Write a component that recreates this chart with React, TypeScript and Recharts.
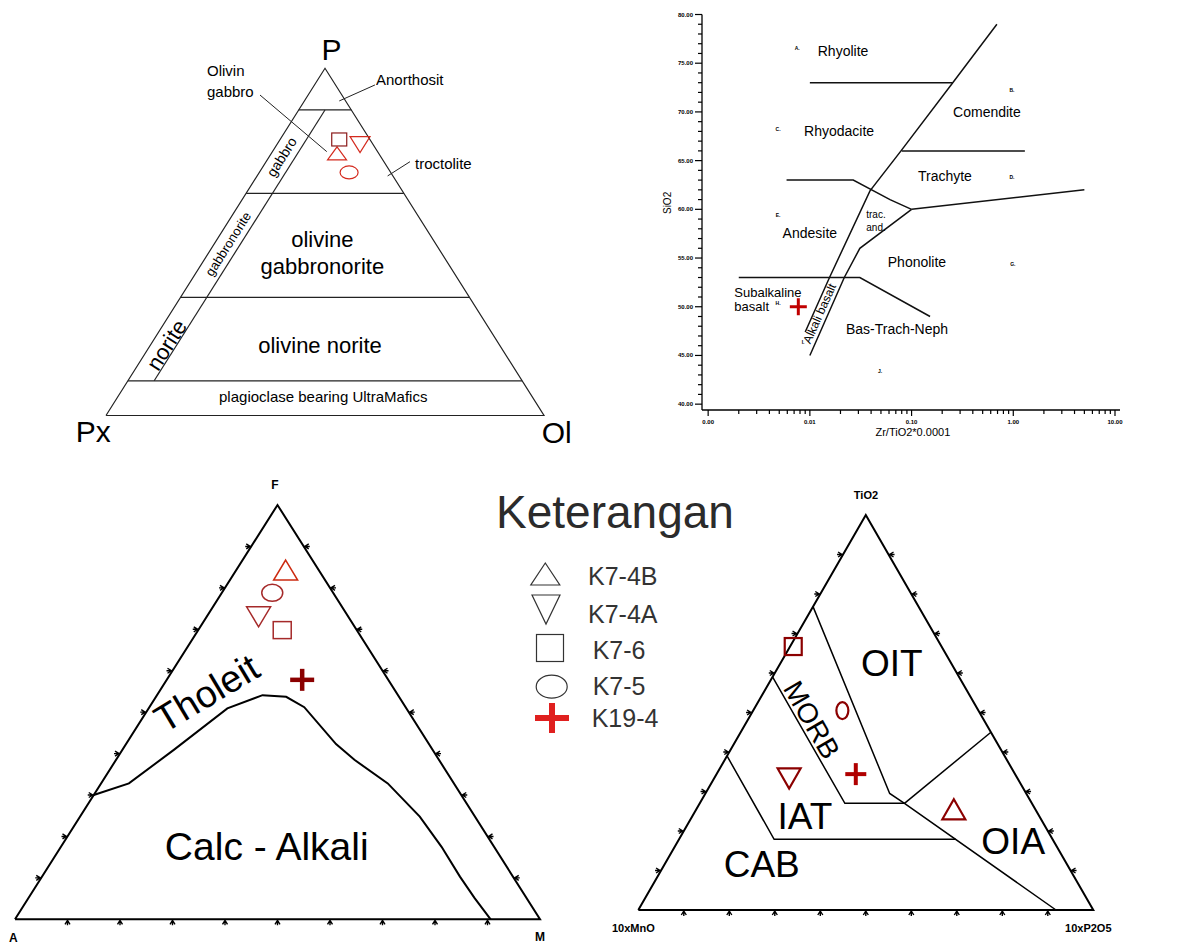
import React from "react";
import { ComposedChart, Scatter, XAxis, YAxis, ReferenceDot } from "recharts";

const FONT = "'Liberation Sans', Arial, Helvetica, sans-serif";

// samples, in legend order
const SAMPLES = ["K7-4B", "K7-4A", "K7-6", "K7-5", "K19-4"];
const KINDS = ["up", "down", "square", "ellipse", "plus"];

// Pl - Px - Ol (modal %), K19-4 not plotted
const PL_PLAG = [75.5, 78, 79.5, 70];
const PL_OL = [15, 19, 13.5, 20.5];

// AFM (%)
const AFM_F = [84.3, 73, 69.8, 78.8, 57.8];
const AFM_M = [9.4, 9.9, 16, 9.6, 25.8];

// TiO2 - 10xMnO - 10xP2O5 (%)
const MUL_TI = [25.5, 33.3, 66.7, 50.5, 34.4];
const MUL_P = [56.6, 16.5, 0.7, 19.6, 30.6];

// Winchester & Floyd, only K19-4
const WF_ZRTI = [0.0077];
const WF_SIO2 = [50];

// field boundaries
const PL_LEVELS = [88, 64, 34, 10];
const PL_OL_LINE = 6;

const AFM_CURVE_F = [30, 32.8, 40.9, 50.9, 54.1, 53.7, 51.2, 42.3, 38.5, 32.8, 24.8, 17.5, 10.3, 5.1, 0];
const AFM_CURVE_M = [0, 5.3, 9.8, 15, 20.1, 24.8, 29.5, 40, 45.4, 54.6, 64.7, 72.5, 79.6, 85, 90.6];

// [TiO2, P2O5]
const MUL_LINES = [
  [[76.8, 0], [29.5, 40.5], [27, 45], [0, 91.8]],
  [[59, 0], [27, 31.9], [27, 45]],
  [[39, 0], [17.9, 20.9], [17.9, 60.8]],
  [[27, 45], [45, 55]],
];

// [Zr/TiO2, SiO2]
const WF_LINES = [
  [[0.69, 79], [0.254, 73], [0.0787, 66], [0.039, 61.9], [0.0156, 53], [0.009, 47.4]],
  [[0.1, 60], [0.031, 56], [0.0218, 53], [0.01, 45]],
  [[0.01, 73], [0.254, 73]],
  [[0.08, 66], [1.3, 66]],
  [[0.0059, 63], [0.0267, 63], [0.0614, 61], [0.1, 60]],
  [[0.1, 60], [5, 62]],
  [[0.002, 53], [0.031, 53], [0.152, 49]],
];

const TERN_TICKS = [10, 20, 30, 40, 50, 60, 70, 80, 90];
const WF_MAJOR = [0.001, 0.01, 0.1, 1, 10];
const WF_XTICKS = WF_MAJOR.flatMap((d) =>
  d === 10 ? [10] : [1, 2, 3, 4, 5, 6, 7, 8, 9].map((k) => Number((k * d).toPrecision(3)))
);
const WF_YTICKS = Array.from({ length: 41 }, (_, i) => 40 + i);

type Pt = { x: number; y: number };
const tern = (top: number, right: number): Pt => ({ x: (right + top / 2) / 100, y: top / 100 });

function Marker({ cx, cy, kind, w, h, color, sw }: any) {
  const common = { fill: "none", stroke: color, strokeWidth: sw };
  if (kind === "up")
    return <polygon points={`${cx},${cy - h / 2} ${cx + w / 2},${cy + h / 2} ${cx - w / 2},${cy + h / 2}`} {...common} />;
  if (kind === "down")
    return <polygon points={`${cx - w / 2},${cy - h / 2} ${cx + w / 2},${cy - h / 2} ${cx},${cy + h / 2}`} {...common} />;
  if (kind === "square") return <rect x={cx - w / 2} y={cy - h / 2} width={w} height={h} {...common} />;
  if (kind === "ellipse") return <ellipse cx={cx} cy={cy} rx={w / 2} ry={h / 2} {...common} />;
  return (
    <g {...common}>
      <line x1={cx - w / 2} x2={cx + w / 2} y1={cy} y2={cy} />
      <line x1={cx} x2={cx} y1={cy - h / 2} y2={cy + h / 2} />
    </g>
  );
}

const path = (key: string, pts: Pt[], stroke = "#000", width = 1.5) => (
  <Scatter
    key={key}
    data={pts}
    fill="none"
    line={{ stroke, strokeWidth: width }}
    shape={() => <g />}
    isAnimationActive={false}
  />
);

const note = (
  key: string,
  x: number,
  y: number,
  text: string,
  size: number,
  o: { anchor?: string; rotate?: number; weight?: string; color?: string } = {}
) => (
  <ReferenceDot
    key={key}
    x={x}
    y={y}
    r={0}
    ifOverflow="visible"
    shape={(p: any) => (
      <text
        x={p.cx}
        y={p.cy}
        fontSize={size}
        fontFamily={FONT}
        fontWeight={o.weight ?? "normal"}
        fill={o.color ?? "#000"}
        textAnchor={o.anchor ?? "middle"}
        dominantBaseline="central"
        transform={o.rotate ? `rotate(${o.rotate} ${p.cx} ${p.cy})` : undefined}
      >
        {text}
      </text>
    )}
  />
);

const samplePoints = (
  prefix: string,
  pts: Pt[],
  sizes: Record<string, number[]>,
  color: (k: string) => string,
  sw: (k: string) => number
) =>
  pts.map((pt, i) => {
    const kind = KINDS[i];
    const [w, h] = sizes[kind];
    return (
      <Scatter
        key={prefix + SAMPLES[i]}
        name={SAMPLES[i]}
        data={[pt]}
        isAnimationActive={false}
        shape={(p: any) => <Marker cx={p.cx} cy={p.cy} kind={kind} w={w} h={h} color={color(kind)} sw={sw(kind)} />}
      />
    );
  });

function Chevron({ cx, cy, dx, dy }: any) {
  const px = -dy;
  const py = dx;
  const d = `M${cx + dx * 5 + px * 2.5},${cy + dy * 5 + py * 2.5} L${cx + dx},${cy + dy} L${cx + dx * 5 - px * 2.5},${cy + dy * 5 - py * 2.5} M${cx},${cy} L${cx + dx * 6},${cy + dy * 6}`;
  return <path d={d} fill="none" stroke="#000" strokeWidth={1.4} />;
}

const ternTicks = (prefix: string) => {
  const edges: [string, Pt[], number, number][] = [
    ["b", TERN_TICKS.map((t) => tern(0, t)), 0, 1],
    ["l", TERN_TICKS.map((t) => tern(t, 0)), -1, 0],
    ["r", TERN_TICKS.map((t) => tern(t, 100 - t)), 1, 0],
  ];
  return edges.map(([k, pts, dx, dy]) => (
    <Scatter
      key={prefix + k}
      data={pts}
      isAnimationActive={false}
      shape={(p: any) => <Chevron cx={p.cx} cy={p.cy} dx={dx} dy={dy} />}
    />
  ));
};

const unitAxes = [
  <XAxis key="x" type="number" dataKey="x" domain={[0, 1]} hide />,
  <YAxis key="y" type="number" dataKey="y" domain={[0, 1]} hide />,
];

function PlagTernary() {
  const outline = [tern(0, 0), tern(100, 0), tern(0, 100), tern(0, 0)];
  const pts = PL_PLAG.map((p, i) => tern(p, PL_OL[i]));
  return (
    <ComposedChart width={600} height={460} margin={{ top: 68.3, right: 56, bottom: 44.5, left: 106 }}>
      {unitAxes}
      {path("outline", outline, "#222", 1.2)}
      {PL_LEVELS.map((p) => path("lv" + p, [tern(p, 0), tern(p, 100 - p)], "#222", 1.2))}
      {path("ol", [tern(88, PL_OL_LINE), tern(10, PL_OL_LINE)], "#222", 1.2)}
      {path("ld1", [{ x: 0.3516, y: 0.923 }, { x: 0.504, y: 0.76 }], "#222", 1)}
      {path("ld2", [{ x: 0.614, y: 0.952 }, { x: 0.5326, y: 0.906 }], "#222", 1)}
      {path("ld3", [{ x: 0.694, y: 0.731 }, { x: 0.643, y: 0.69 }], "#222", 1)}
      {samplePoints(
        "pl",
        pts,
        { up: [19, 13], down: [20, 16], square: [15, 13], ellipse: [18, 13] },
        (k) => (k === "square" ? "#8b1a1a" : "#d42a1e"),
        () => 1.2
      )}
      {note("P", 0.515, 1.053, "P", 30)}
      {note("Px", -0.029, -0.047, "Px", 30)}
      {note("Ol", 1.029, -0.05, "Ol", 30)}
      {note("og1", 0.2306, 0.993, "Olivin", 15, { anchor: "start" })}
      {note("og2", 0.2306, 0.9326, "gabbro", 15, { anchor: "start" })}
      {note("an", 0.6164, 0.968, "Anorthosit", 15, { anchor: "start" })}
      {note("tr", 0.7055, 0.726, "troctolite", 15, { anchor: "start" })}
      {note("gb", 0.401, 0.745, "gabbro", 14, { rotate: -57.5 })}
      {note("gbn", 0.279, 0.494, "gabbronorite", 13, { rotate: -57.5 })}
      {note("nor", 0.1386, 0.203, "norite", 22, { rotate: -57.5 })}
      {note("ogn1", 0.494, 0.5055, "olivine", 22)}
      {note("ogn2", 0.494, 0.4286, "gabbronorite", 22)}
      {note("on", 0.4886, 0.203, "olivine norite", 22)}
      {note("pbu", 0.496, 0.054, "plagioclase bearing UltraMafics", 15)}
    </ComposedChart>
  );
}

const WfXTick = ({ x, y, payload }: any) => {
  const v = payload.value;
  const major = WF_MAJOR.some((m) => Math.abs(m - v) < 1e-9);
  return (
    <g>
      <line x1={x} x2={x} y1={y} y2={y + (major ? 6 : 4)} stroke="#000" strokeWidth={1.2} />
      {major && (
        <text x={x} y={y + 12} fontSize={6} fontWeight="bold" fontFamily={FONT} textAnchor="middle" dominantBaseline="central">
          {v.toFixed(2)}
        </text>
      )}
    </g>
  );
};

const WfYTick = ({ x, y, payload }: any) => {
  const v = payload.value;
  const major = v % 5 === 0;
  return (
    <g>
      <line x1={x - (major ? 7 : 4)} x2={x} y1={y} y2={y} stroke="#000" strokeWidth={1.2} />
      {major && (
        <text x={x - 9} y={y} fontSize={6} fontWeight="bold" fontFamily={FONT} textAnchor="end" dominantBaseline="central">
          {v.toFixed(2)}
        </text>
      )}
    </g>
  );
};

function WinchesterFloyd() {
  const small = (k: string, x: number, y: number, t: string) => note(k, x, y, t, 5, { weight: "bold" });
  return (
    <ComposedChart width={560} height={445} margin={{ top: 14.5, right: 40, bottom: 15, left: 62 }}>
      <XAxis
        type="number"
        dataKey="x"
        scale="log"
        domain={[0.00087, 11.2]}
        allowDataOverflow
        ticks={WF_XTICKS}
        interval={0}
        tick={<WfXTick />}
        tickLine={false}
        tickSize={0}
        tickMargin={0}
        axisLine={{ stroke: "#000", strokeWidth: 1.3 }}
        height={20}
      />
      <YAxis
        type="number"
        dataKey="y"
        domain={[39.4, 80]}
        allowDataOverflow
        ticks={WF_YTICKS}
        interval={0}
        tick={<WfYTick />}
        tickLine={false}
        tickSize={0}
        tickMargin={0}
        axisLine={{ stroke: "#000", strokeWidth: 1.3 }}
        width={40}
      />
      {WF_LINES.map((ln, i) => path("wf" + i, ln.map(([x, y]) => ({ x, y })), "#111", 1.5))}
      {WF_ZRTI.map((x, i) => (
        <Scatter
          key={"wfp" + i}
          name="K19-4"
          data={[{ x, y: WF_SIO2[i] }]}
          isAnimationActive={false}
          shape={(p: any) => <Marker cx={p.cx} cy={p.cy} kind="plus" w={17} h={17} color="#c00000" sw={3} />}
        />
      ))}
      {small("A", 0.0075, 76.6, "A.")}
      {small("B", 0.969, 72.3, "B.")}
      {small("C", 0.00487, 68.26, "C.")}
      {small("D", 0.969, 63.3, "D.")}
      {small("E", 0.00487, 59.4, "E.")}
      {small("G", 0.99, 54.4, "G.")}
      {small("H", 0.00487, 50.4, "H.")}
      {small("I", 0.00857, 46.4, "I.")}
      {small("J", 0.049, 43.4, "J.")}
      {note("rhy", 0.0212, 76.3, "Rhyolite", 14)}
      {note("com", 0.551, 70, "Comendite", 14)}
      {note("rhd", 0.01936, 68.06, "Rhyodacite", 14)}
      {note("tra", 0.2128, 63.4, "Trachyte", 14)}
      {note("ta1", 0.0447, 59.5, "trac.", 10)}
      {note("ta2", 0.0447, 58.1, "and.", 10)}
      {note("and", 0.01, 57.6, "Andesite", 14)}
      {note("pho", 0.113, 54.6, "Phonolite", 14)}
      {note("sb1", 0.00181, 51.5, "Subalkaline", 13, { anchor: "start" })}
      {note("sb2", 0.00181, 50, "basalt", 13, { anchor: "start" })}
      {note("ab", 0.0125, 49.3, "Alkali basalt", 12, { rotate: -66 })}
      {note("btn", 0.0719, 47.7, "Bas-Trach-Neph", 14)}
      {note("xl", 0.103, 37.1, "Zr/TiO2*0.0001", 11)}
      {note("yl", 0.000395, 60.66, "SiO2", 10, { rotate: -90 })}
    </ComposedChart>
  );
}

function AfmTernary() {
  const outline = [tern(0, 0), tern(100, 0), tern(0, 100), tern(0, 0)];
  const curve = AFM_CURVE_F.map((f, i) => tern(f, AFM_CURVE_M[i]));
  const pts = AFM_F.map((f, i) => tern(f, AFM_M[i]));
  return (
    <ComposedChart width={580} height={484} margin={{ top: 45, right: 40, bottom: 24.7, left: 15 }}>
      {unitAxes}
      {path("outline", outline, "#000", 2)}
      {path("curve", curve, "#000", 2)}
      {ternTicks("afm")}
      {samplePoints(
        "afm",
        pts,
        { up: [24, 20], down: [24, 20], square: [18, 17], ellipse: [21, 17], plus: [24, 22] },
        (k) => (k === "plus" ? "#8b0000" : k === "up" ? "#cc2a10" : "#a52a2a"),
        (k) => (k === "plus" ? 4.5 : 1.5)
      )}
      {note("F", 0.4952, 1.048, "F", 12, { weight: "bold" })}
      {note("A", -0.003, -0.046, "A", 12, { weight: "bold" })}
      {note("M", 1.0, -0.0425, "M", 12, { weight: "bold" })}
      {note("th", 0.365, 0.5455, "Tholeit", 38, { rotate: -31 })}
      {note("ca", 0.4795, 0.175, "Calc - Alkali", 39)}
    </ComposedChart>
  );
}

function MullenTernary() {
  const outline = [tern(0, 0), tern(100, 0), tern(0, 100), tern(0, 0)];
  const pts = MUL_TI.map((t, i) => tern(t, MUL_P[i]));
  return (
    <ComposedChart width={577} height={474} margin={{ top: 45, right: 83.7, bottom: 34, left: 38.3 }}>
      {unitAxes}
      {path("outline", outline, "#000", 2)}
      {MUL_LINES.map((ln, i) => path("ml" + i, ln.map(([t, p]) => tern(t, p)), "#000", 1.5))}
      {ternTicks("mul")}
      {samplePoints(
        "mul",
        pts,
        { up: [23, 20], down: [23, 20], square: [17, 17], ellipse: [12, 17], plus: [21, 22] },
        (k) => (k === "plus" ? "#b00000" : "#8b0000"),
        (k) => (k === "plus" ? 4 : 2.2)
      )}
      {note("ti", 0.5004, 1.0506, "TiO2", 11, { weight: "bold" })}
      {note("mn", -0.011, -0.046, "10xMnO", 11, { weight: "bold" })}
      {note("p2", 0.989, -0.046, "10xP2O5", 11, { weight: "bold" })}
      {note("oit", 0.557, 0.6245, "OIT", 37)}
      {note("morb", 0.381, 0.481, "MORB", 28, { rotate: 60 })}
      {note("iat", 0.3664, 0.2362, "IAT", 37)}
      {note("cab", 0.2712, 0.114, "CAB", 37)}
      {note("oia", 0.824, 0.173, "OIA", 37)}
    </ComposedChart>
  );
}

function LegendBox() {
  const rows = [
    { cx: 65.3, cy: 104, w: 29, h: 22, tx: 108, ty: 115 },
    { cx: 66, cy: 139.5, w: 28, h: 29, tx: 108, ty: 153 },
    { cx: 70, cy: 178, w: 27, h: 27, tx: 112.7, ty: 188.5 },
    { cx: 71.7, cy: 216.7, w: 31, h: 23, tx: 112.7, ty: 225 },
    { cx: 72, cy: 248, w: 34, h: 30, tx: 111.7, ty: 257 },
  ];
  return (
    <svg width={280} height={280} style={{ position: "absolute", left: 480, top: 470 }}>
      <text x={135} y={58} fontSize={46} fontFamily={FONT} fill="#2b2b2b" textAnchor="middle">
        Keterangan
      </text>
      {SAMPLES.map((s, i) => {
        const r = rows[i];
        const kind = KINDS[i];
        return (
          <g key={s}>
            <Marker
              cx={r.cx}
              cy={r.cy}
              kind={kind}
              w={r.w}
              h={r.h}
              color={kind === "plus" ? "#e0201f" : "#333"}
              sw={kind === "plus" ? 6 : 1.2}
            />
            <text x={r.tx} y={r.ty} fontSize={25} fontFamily={FONT} fill="#333">
              {s}
            </text>
          </g>
        );
      })}
    </svg>
  );
}

export default function App() {
  return (
    <div style={{ position: "absolute", left: 0, top: 0, width: 1177, height: 944, background: "#fff", overflow: "hidden" }}>
      <div style={{ position: "absolute", left: 0, top: 0 }}>
        <PlagTernary />
      </div>
      <div style={{ position: "absolute", left: 600, top: 0 }}>
        <WinchesterFloyd />
      </div>
      <div style={{ position: "absolute", left: 0, top: 460 }}>
        <AfmTernary />
      </div>
      <div style={{ position: "absolute", left: 600, top: 470 }}>
        <MullenTernary />
      </div>
      <LegendBox />
    </div>
  );
}
